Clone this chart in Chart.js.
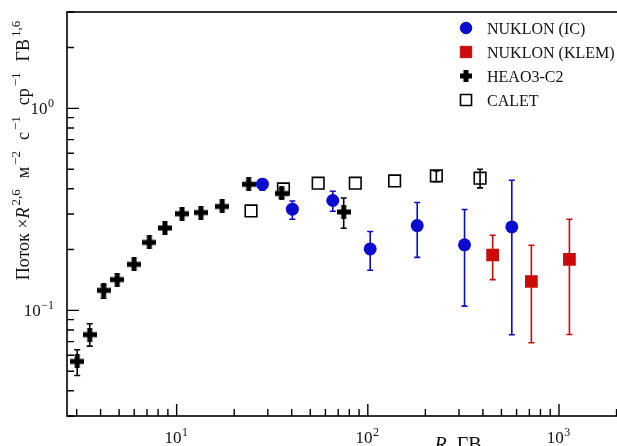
<!DOCTYPE html>
<html>
<head>
<meta charset="utf-8">
<script src="https://cdn.jsdelivr.net/npm/chart.js@4/dist/chart.umd.min.js"></script>
<style>
html,body{margin:0;padding:0;background:#fff;overflow:hidden;width:617px;height:446px;}
canvas{display:block;}
</style>
</head>
<body>
<canvas id="c" width="660" height="446"></canvas>
<script>
// ---- data (rigidity R in GV, flux x R^2.6) ----
const heaoR    = [3.02, 3.51, 4.15, 4.89, 5.99, 7.2, 8.68, 10.67, 13.4, 17.3, 23.8, 35.4, 74.8];
const heaoFlux = [0.0559, 0.0758, 0.1257, 0.142, 0.169, 0.217, 0.2556, 0.301, 0.305, 0.327, 0.421, 0.379, 0.307];
const heaoLo   = [0.0476, 0.0665, 0.115, null, null, null, null, null, null, null, null, 0.36, 0.255];
const heaoHi   = [0.0638, 0.0859, 0.133, null, null, null, null, null, null, null, null, 0.40, 0.360];

const icR    = [28.1, 40.3, 65.6, 102.9, 181.3, 320.6, 566.6];
const icFlux = [0.4213, 0.3168, 0.3499, 0.2014, 0.263, 0.211, 0.259];
const icLo   = [0.3935, 0.2826, 0.3096, 0.158, 0.183, 0.105, 0.0758];
const icHi   = [0.446, 0.348, 0.389, 0.2456, 0.342, 0.3156, 0.441];

const klemR    = [449.8, 717, 1134];
const klemFlux = [0.188, 0.139, 0.179];
const klemLo   = [0.142, 0.0692, 0.076];
const klemHi   = [0.2354, 0.21, 0.2826];

const caletR    = [24.5, 36.2, 55.0, 86.0, 138.1, 228.3, 386.5];
const caletFlux = [0.3107, 0.3994, 0.4262, 0.4262, 0.4376, 0.4633, 0.4514];
const caletLo   = [null, null, null, null, null, 0.433, 0.404];
const caletHi   = [null, null, null, null, null, 0.49, 0.50];

const seriesNames = ['NUKLON (IC)', 'NUKLON (KLEM)', 'HEAO3-C2', 'CALET'];
const xTickExps = [1, 2, 3];
const yTickExps = [-1, 0];

// ---- styles ----
const BLUE = '#0b0bd0', RED = '#cc0a0a', BLACK = '#000';
const FONT = '"Liberation Serif", "DejaVu Serif", serif';

function makeCross(size, arm, color){
  const c = document.createElement('canvas');
  c.width = size; c.height = size;
  const g = c.getContext('2d');
  g.fillStyle = color;
  const o = (size - arm) / 2;
  g.fillRect(o, 0, arm, size);
  g.fillRect(0, o, size, arm);
  return c;
}
const crossImg = makeCross(14, 5, BLACK);
const crossImgLegend = makeCross(12, 5, BLACK);

const pts = (xs, ys) => xs.map((v, i) => ({x: v, y: ys[i]}));
const errs = {
  'NUKLON (IC)': {lo: icLo, hi: icHi, color: BLUE},
  'NUKLON (KLEM)': {lo: klemLo, hi: klemHi, color: RED},
  'HEAO3-C2': {lo: heaoLo, hi: heaoHi, color: BLACK},
  'CALET': {lo: caletLo, hi: caletHi, color: BLACK}
};

const errPlugin = {
  id: 'errbars',
  beforeDatasetsDraw(chart){
    const {ctx, scales: {x, y}} = chart;
    ctx.save();
    chart.data.datasets.slice().reverse().forEach(ds => {
      const e = errs[ds.label];
      if (!e) return;
      ctx.strokeStyle = e.color;
      ctx.lineWidth = 1.6;
      ds.data.forEach((p, j) => {
        const lo = e.lo[j], hi = e.hi[j];
        if (lo == null || hi == null) return;
        const px = x.getPixelForValue(p.x);
        const y1 = y.getPixelForValue(lo), y2 = y.getPixelForValue(hi);
        ctx.beginPath();
        ctx.moveTo(px, y1); ctx.lineTo(px, y2);
        ctx.moveTo(px - 3, y1); ctx.lineTo(px + 3, y1);
        ctx.moveTo(px - 3, y2); ctx.lineTo(px + 3, y2);
        ctx.stroke();
      });
    });
    ctx.restore();
  }
};

function drawPow(ctx, exp, x, baseY, align){
  const base = '10', sup = String(exp).replace('-', '\u2212');
  ctx.font = '17px ' + FONT;
  const wb = ctx.measureText(base).width;
  ctx.font = '12px ' + FONT;
  const ws = ctx.measureText(sup).width;
  const total = wb + ws + 0.5;
  let x0 = align === 'center' ? x - total / 2 : x - total;
  ctx.textAlign = 'left';
  ctx.textBaseline = 'alphabetic';
  ctx.font = '17px ' + FONT;
  ctx.fillText(base, x0, baseY);
  ctx.font = '12px ' + FONT;
  ctx.fillText(sup, x0 + wb + 0.5, baseY - 7);
}

const axesPlugin = {
  id: 'axesFrame',
  afterDatasetsDraw(chart){
    const {ctx, chartArea: a, scales: {x, y}} = chart;
    ctx.save();
    ctx.strokeStyle = '#000';
    ctx.fillStyle = '#111';
    ctx.lineWidth = 1.6;
    // frame
    ctx.strokeRect(a.left, a.top, a.right - a.left, a.bottom - a.top);
    // x ticks (inside)
    ctx.lineWidth = 1.4;
    ctx.beginPath();
    for (let d = 0; d <= 4; d++){
      for (let m = 1; m <= 9; m++){
        const v = m * Math.pow(10, d);
        if (v < x.min || v > x.max) continue;
        const px = x.getPixelForValue(v);
        const len = m === 1 ? 12 : 7;
        ctx.moveTo(px, a.bottom); ctx.lineTo(px, a.bottom - len);
      }
    }
    // y ticks
    for (let d = -2; d <= 1; d++){
      for (let m = 1; m <= 9; m++){
        const v = m * Math.pow(10, d);
        if (v < y.min * 0.999 || v > y.max * 1.001) continue;
        const py = y.getPixelForValue(v);
        const len = m === 1 ? 12 : 7;
        ctx.moveTo(a.left, py); ctx.lineTo(a.left + len, py);
      }
    }
    ctx.stroke();
    // tick labels
    xTickExps.forEach(e => drawPow(ctx, e, x.getPixelForValue(Math.pow(10, e)) - 0.5, 442.5, 'center'));
    yTickExps.forEach(e => drawPow(ctx, e, 54, y.getPixelForValue(Math.pow(10, e)) + 6, 'right'));

    // x title
    ctx.textBaseline = 'alphabetic';
    ctx.font = 'italic 20px ' + FONT;
    const wR = ctx.measureText('R').width;
    ctx.font = '20px ' + FONT;
    const wRest = ctx.measureText(', ГВ').width;
    let tx = 458 - (wR + wRest) / 2;
    ctx.font = 'italic 20px ' + FONT;
    ctx.fillText('R', tx, 451);
    ctx.font = '20px ' + FONT;
    ctx.fillText(', ГВ', tx + wR, 451);

    // y title (rotated, with superscripts); [text, type, gap before]
    const segs = [['Поток ×', 'n', 0], ['R', 'i', 0], ['2,6', 's', 2], ['м', 'n', 11], ['\u22122', 's', 2],
                  ['с', 'n', 11], ['\u22121', 's', 2], ['ср', 'n', 11], ['\u22121', 's', 2], ['ГВ', 'n', 11], ['1,6', 's', 2]];
    const fontOf = t => t === 'i' ? 'italic 18px ' + FONT : (t === 's' ? '13px ' + FONT : '18px ' + FONT);
    let tot = 0;
    segs.forEach(s => { ctx.font = fontOf(s[1]); tot += ctx.measureText(s[0]).width + s[2]; });
    ctx.translate(29, 150.5);
    ctx.rotate(-Math.PI / 2);
    let cx = -tot / 2;
    segs.forEach(s => {
      ctx.font = fontOf(s[1]);
      const off = s[1] === 's' ? -9 : 0;
      cx += s[2];
      ctx.fillText(s[0], cx, off);
      cx += ctx.measureText(s[0]).width;
    });
    ctx.restore();

    // legend
    ctx.save();
    const rows = [
      {name: seriesNames[0], style: 'circle', r: 5.8, fill: BLUE, stroke: BLUE},
      {name: seriesNames[1], style: 'rect', r: 8, fill: RED, stroke: RED},
      {name: seriesNames[2], style: crossImgLegend, r: 6, fill: BLACK, stroke: BLACK},
      {name: seriesNames[3], style: 'rect', r: 7.8, fill: 'rgba(0,0,0,0)', stroke: BLACK}
    ];
    const ys = [28, 52, 76, 100];
    rows.forEach((r, i) => {
      ctx.fillStyle = r.fill; ctx.strokeStyle = r.stroke; ctx.lineWidth = r.name === 'CALET' ? 1.6 : 1;
      Chart.helpers.drawPoint(ctx, {pointStyle: r.style, radius: r.r, rotation: 0, borderWidth: ctx.lineWidth}, 466, ys[i]);
      ctx.fillStyle = '#111';
      ctx.font = '16px ' + FONT;
      ctx.textBaseline = 'alphabetic';
      ctx.textAlign = 'left';
      ctx.fillText(r.name, 487, ys[i] + 5.5);
    });
    ctx.restore();
  }
};

new Chart(document.getElementById('c'), {
  type: 'scatter',
  data: {
    datasets: [
      {label: seriesNames[0], data: pts(icR, icFlux), pointStyle: 'circle', pointRadius: 6.5,
       backgroundColor: BLUE, borderColor: BLUE, borderWidth: 0},
      {label: seriesNames[1], data: pts(klemR, klemFlux), pointStyle: 'rect', pointRadius: 9,
       backgroundColor: RED, borderColor: RED, borderWidth: 0},
      {label: seriesNames[2], data: pts(heaoR, heaoFlux), pointStyle: crossImg, pointRadius: 7,
       backgroundColor: BLACK, borderColor: BLACK},
      {label: seriesNames[3], data: pts(caletR, caletFlux), pointStyle: 'rect', pointRadius: 8.2,
       backgroundColor: 'rgba(0,0,0,0)', borderColor: BLACK, borderWidth: 1.6}
    ]
  },
  options: {
    responsive: false,
    devicePixelRatio: 1,
    animation: false,
    layout: {padding: {left: 67, top: 12, right: 6, bottom: 30}},
    plugins: {legend: {display: false}, tooltip: {enabled: false}},
    scales: {
      x: {type: 'logarithmic', min: 2.67, max: 3000, display: false},
      y: {type: 'logarithmic', min: 0.03, max: 3, display: false}
    }
  },
  plugins: [errPlugin, axesPlugin]
});
</script>
</body>
</html>
